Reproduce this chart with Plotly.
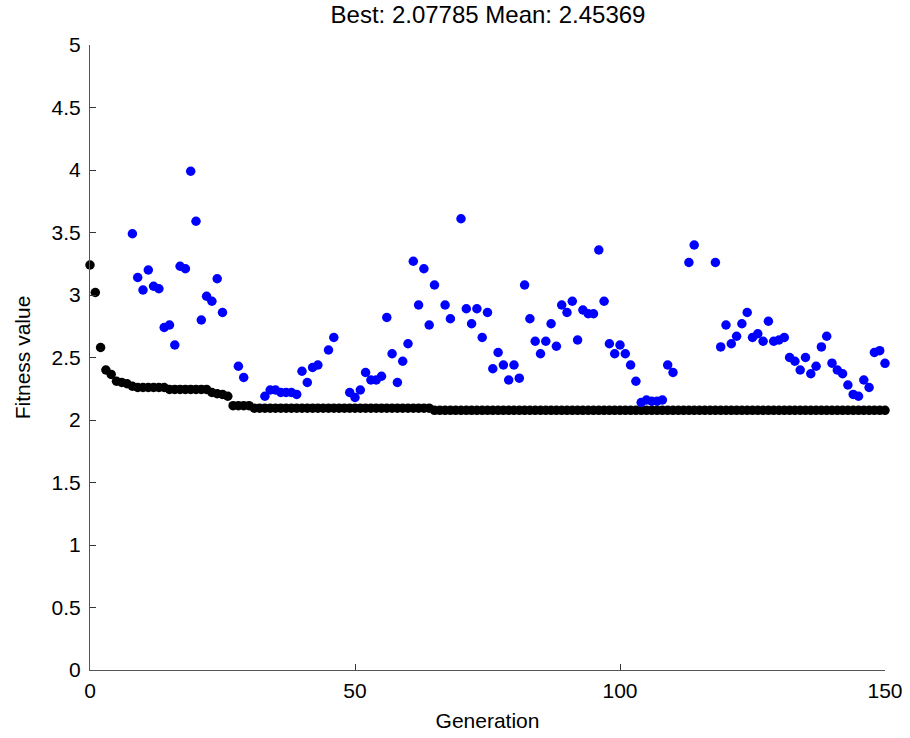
import plotly.graph_objects as go

generations = list(range(151))

best_values = (
    [3.24, 3.02, 2.58, 2.40, 2.365, 2.31, 2.30, 2.29, 2.27]
    + [2.26] * 6
    + [2.245] * 8
    + [2.22, 2.21, 2.205, 2.19]
    + [2.115] * 4
    + [2.095] * 34
    + [2.07785] * 86
)

N = None
mean_values = [
    N, N, N, N, N, N, N, N, 3.49, 3.14,          # 0-9
    3.04, 3.20, 3.07, 3.05, 2.74, 2.76, 2.60, 3.23, 3.21, 3.99,  # 10-19
    3.59, 2.80, 2.99, 2.95, 3.13, 2.86, N, N, 2.43, 2.34,        # 20-29
    N, N, N, 2.19, 2.24, 2.24, 2.22, 2.22, 2.22, 2.205,          # 30-39
    2.39, 2.30, 2.42, 2.44, N, 2.56, 2.66, N, N, 2.22,           # 40-49
    2.18, 2.24, 2.38, 2.32, 2.32, 2.35, 2.82, 2.53, 2.30, 2.47,  # 50-59
    2.61, 3.27, 2.92, 3.21, 2.76, 3.08, N, 2.92, 2.81, N,        # 60-69
    3.61, 2.89, 2.77, 2.89, 2.66, 2.86, 2.41, 2.54, 2.44, 2.32,  # 70-79
    2.44, 2.335, 3.08, 2.81, 2.63, 2.53, 2.63, 2.77, 2.59, 2.92, # 80-89
    2.86, 2.95, 2.64, 2.88, 2.85, 2.85, 3.36, 2.95, 2.61, 2.53,  # 90-99
    2.60, 2.53, 2.44, 2.31, 2.14, 2.16, 2.15, 2.15, 2.16, 2.44,  # 100-109
    2.38, N, N, 3.26, 3.40, N, N, N, 3.26, 2.585,                # 110-119
    2.76, 2.61, 2.67, 2.77, 2.86, 2.66, 2.69, 2.63, 2.79, 2.63,  # 120-129
    2.64, 2.66, 2.50, 2.47, 2.40, 2.50, 2.37, 2.43, 2.585, 2.67, # 130-139
    2.455, 2.40, 2.37, 2.28, 2.205, 2.19, 2.32, 2.26, 2.54, 2.555, # 140-149
    2.45369,                                                      # 150
]

x_ticks = [0, 50, 100, 150]
y_ticks = [0, 0.5, 1, 1.5, 2, 2.5, 3, 3.5, 4, 4.5, 5]
y_tick_labels = ["0", "0.5", "1", "1.5", "2", "2.5", "3", "3.5", "4", "4.5", "5"]
title_text = "Best: 2.07785 Mean: 2.45369"

FONT = "Liberation Sans, Arial, sans-serif"

fig = go.Figure()
fig.add_trace(go.Scatter(
    x=generations, y=best_values, mode="markers",
    marker=dict(color="black", size=9.5, line=dict(width=0)),
    cliponaxis=False, showlegend=False, name="Best"))
fig.add_trace(go.Scatter(
    x=generations, y=mean_values, mode="markers",
    marker=dict(color="#0000ff", size=9.5, line=dict(width=0)),
    cliponaxis=False, showlegend=False, name="Mean"))

W, H = 910, 738
fig.update_layout(
    width=W, height=H,
    margin=dict(l=89.5, r=24.5, t=45, b=68, pad=0, autoexpand=False),
    paper_bgcolor="white", plot_bgcolor="white",
    font=dict(family=FONT, color="black", size=21),
    title=dict(text=title_text, x=488 / W, xanchor="center", y=1 - 15 / H, yanchor="middle",
               font=dict(size=24, family=FONT, color="black"), automargin=False),
    xaxis=dict(range=[0, 150], tickvals=x_ticks, ticktext=[str(v) for v in x_ticks],
               ticks="inside", ticklen=6, tickcolor="#333", showline=True,
               linecolor="#555", linewidth=1, showgrid=False, zeroline=False,
               tickfont=dict(size=21), ticklabelstandoff=2,
               title=dict(text="Generation", font=dict(size=21), standoff=12),
               automargin=False, mirror=False),
    yaxis=dict(range=[0, 5], tickvals=y_ticks, ticktext=y_tick_labels,
               ticks="inside", ticklen=6, tickcolor="#333", showline=True,
               linecolor="#555", linewidth=1, showgrid=False, zeroline=False,
               tickfont=dict(size=21), ticklabelstandoff=4,
               title=dict(text="Fitness value", font=dict(size=21), standoff=15),
               automargin=False, mirror=False),
)

fig.write_html("out.html", config={"displayModeBar": False},
               post_script="document.body.style.margin='0';")
